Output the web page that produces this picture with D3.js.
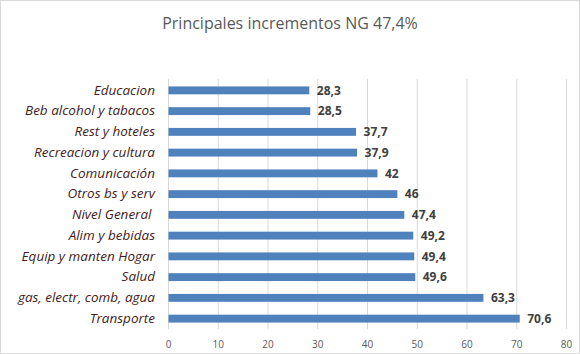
<!DOCTYPE html>
<html>
<head>
<meta charset="utf-8">
<script src="https://cdn.jsdelivr.net/npm/d3@7"></script>
<style>
  body { margin: 0; background: #fff; }
  svg { display: block; }
</style>
</head>
<body>
<script>
const width = 580;
const height = 354;
const margin = {top: 80, right: 14, bottom: 25, left: 168};

// data
const categories = ["Educacion", "Beb alcohol y tabacos", "Rest y hoteles", "Recreacion y cultura",
  "Comunicación", "Otros bs y serv", "Nivel General ", "Alim y bebidas", "Equip y manten Hogar",
  "Salud", "gas, electr, comb, agua", "Transporte"];
const values = [28.3, 28.5, 37.7, 37.9, 42, 46, 47.4, 49.2, 49.4, 49.6, 63.3, 70.6];
const valueLabels = ["28,3", "28,5", "37,7", "37,9", "42", "46", "47,4", "49,2", "49,4", "49,6", "63,3", "70,6"];
const xTicks = [0, 10, 20, 30, 40, 50, 60, 70, 80];

const data = categories.map((c, i) => ({cat: c, value: values[i], label: valueLabels[i]}));

const xScale = d3.scaleLinear()
                 .domain([0, 80])
                 .range([margin.left, 566]);
const yScale = d3.scaleBand()
                 .domain(categories)
                 .range([margin.top, height - margin.bottom])
                 .paddingInner(0.62)
                 .paddingOuter(0.31);

const svg = d3.select("body").append("svg")
              .attr("width", width)
              .attr("height", height);

// chart border
svg.append("rect")
   .attr("x", 0.5).attr("y", 0.5)
   .attr("width", width - 1).attr("height", height - 1)
   .attr("fill", "#fff")
   .attr("stroke", "#d9d9d9");

// title
svg.append("text")
   .attr("x", 290)
   .attr("y", 29)
   .attr("text-anchor", "middle")
   .attr("font-family", "Open Sans, sans-serif")
   .attr("font-size", 16)
   .attr("fill", "#595959")
   .text("Principales incrementos NG 47,4%");

// gridlines
svg.append("g")
   .selectAll("line")
   .data(xTicks)
   .enter()
   .append("line")
   .attr("x1", d => xScale(d) + 0.5)
   .attr("x2", d => xScale(d) + 0.5)
   .attr("y1", margin.top - 1)
   .attr("y2", height - margin.bottom)
   .attr("stroke", "#d9d9d9");

// x axis labels
const xAxis = d3.axisBottom(xScale)
                .tickValues(xTicks)
                .tickSize(0)
                .tickPadding(12);
const gx = svg.append("g")
   .attr("transform", "translate(0," + (height - margin.bottom) + ")")
   .call(xAxis);
gx.select(".domain").remove();
gx.selectAll("text")
  .attr("font-family", "Open Sans, sans-serif")
  .attr("font-size", 10)
  .attr("fill", "#595959");

// y axis labels
const yAxis = d3.axisLeft(yScale)
                .tickSize(0)
                .tickPadding(13);
const gy = svg.append("g")
   .attr("transform", "translate(" + margin.left + ",0)")
   .call(yAxis);
gy.select(".domain").remove();
gy.selectAll("text")
  .attr("font-family", "Open Sans, sans-serif")
  .attr("font-style", "italic")
  .attr("font-size", 13.5)
  .attr("fill", "#431c1c")
  .attr("xml:space", "preserve");

// bars
svg.append("g")
   .attr("fill", "#4f81bd")
   .selectAll("rect")
   .data(data)
   .enter()
   .append("rect")
   .attr("x", xScale(0) + 0.5)
   .attr("y", d => yScale(d.cat))
   .attr("width", d => xScale(d.value) - xScale(0))
   .attr("height", yScale.bandwidth());

// value labels
svg.append("g")
   .selectAll("text")
   .data(data)
   .enter()
   .append("text")
   .attr("x", d => xScale(d.value) + 8)
   .attr("y", d => yScale(d.cat) + yScale.bandwidth() / 2)
   .attr("dy", "0.36em")
   .attr("font-family", "Open Sans, sans-serif")
   .attr("font-weight", "bold")
   .attr("font-size", 12)
   .attr("fill", "#404040")
   .text(d => d.label);
</script>
</body>
</html>
